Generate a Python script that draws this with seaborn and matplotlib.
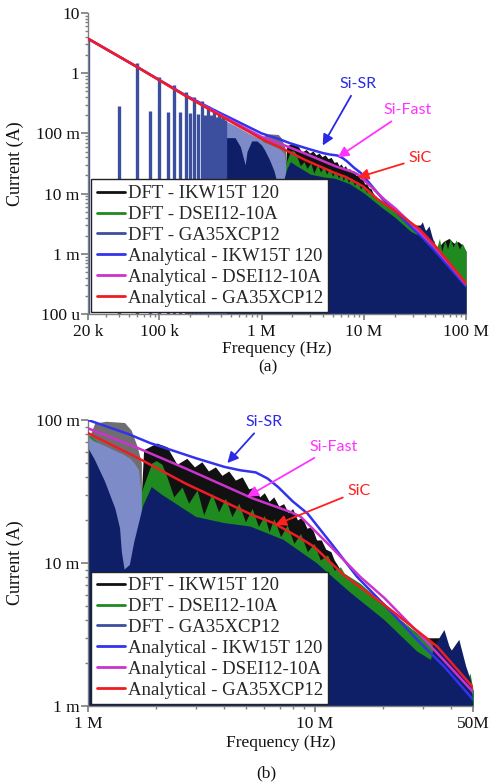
import numpy as np
import matplotlib
matplotlib.use("Agg")
import matplotlib.pyplot as plt
import seaborn as sns
from matplotlib.lines import Line2D
from matplotlib.ticker import FixedLocator, FixedFormatter, LogLocator, NullFormatter

# ---------------- data (frequency in MHz, current in A) ----------------
# DFT - GA35XCP12 : discrete harmonics at low frequency
spike_f = [0.02, 0.04, 0.06, 0.08, 0.10, 0.12, 0.14, 0.16, 0.18, 0.20, 0.22,
           0.24, 0.26, 0.28, 0.30, 0.32, 0.34, 0.36, 0.38, 0.40, 0.42, 0.44]
spike_v = [3.6, 0.285, 1.45, 0.24, 0.87, 0.227, 0.63, 0.225, 0.49, 0.22, 0.40,
           0.21, 0.34, 0.205, 0.29, 0.20, 0.25, 0.19, 0.22, 0.18, 0.20, 0.17]
# DFT - GA35XCP12 : dense region, harmonic peaks (light) and solid floor
navy_lt_f = [0.45, 0.55, 0.65, 0.75, 0.85, 0.95, 1.05, 1.19, 1.32, 1.42, 1.53, 1.60, 1.67, 1.72]
navy_lt_v = [0.16, 0.135, 0.115, 0.10, 0.09, 0.083, 0.072, 0.066, 0.061, 0.058, 0.054, 0.05, 0.045, 0.03]
navy_f = [0.18, 0.22, 0.26, 0.30, 0.36, 0.45, 0.55, 0.62, 0.69, 0.72, 0.80, 0.90, 1.00, 1.07,
          1.19, 1.32, 1.385, 1.41, 1.45, 1.53, 1.60, 1.67, 1.75, 1.91, 2.12, 2.35, 3.0, 4.0,
          5.2, 7.3, 10.2, 14.4, 20.3, 28.4, 32.6, 33.7, 37.4, 40.0, 43.5, 46.6, 49.0, 50.0,
          55.0, 70.0, 85.0, 100.0]
navy_v = [0.0001, 0.001, 0.01, 0.03, 0.06, 0.085, 0.085, 0.06, 0.03, 0.05, 0.075, 0.075, 0.064, 0.053,
          0.037, 0.024, 0.0175, 0.012, 0.009, 0.0097, 0.014, 0.0185, 0.025, 0.034, 0.030, 0.027, 0.021, 0.019,
          0.018, 0.0145, 0.010, 0.0062, 0.0040, 0.0024, 0.0021, 0.0026, 0.0034, 0.0024, 0.0029, 0.0019, 0.0015, 0.0011,
          0.00095, 0.00062, 0.00043, 0.0003]
# DFT - IKW15T 120
black_gr_f = [0.85, 1.0, 1.07, 1.2, 1.45, 1.55, 1.65, 1.72]
black_gr_v = [0.06, 0.072, 0.095, 0.098, 0.096, 0.085, 0.065, 0.05]
black_f = [1.72, 1.76, 2.01, 2.23, 2.47, 2.73, 2.95, 3.18, 3.40, 3.65, 3.90, 4.18, 4.47, 4.79,
           5.12, 5.45, 5.72, 6.0, 6.3, 6.6, 6.95, 7.3, 7.65, 8.0, 8.4, 8.8, 9.25, 9.7, 10.2, 10.7,
           11.2, 11.8, 12.2, 12.6, 13.5, 20.0, 30.0, 37.0, 42.0, 46.0, 50.0, 52.0, 60.0, 68.0,
           76.0, 84.0, 92.0, 100.0]
black_v = [0.03, 0.062, 0.069, 0.065, 0.049, 0.054, 0.047, 0.051, 0.044, 0.047, 0.041, 0.044, 0.038, 0.040,
           0.033, 0.034, 0.029, 0.031, 0.027, 0.029, 0.025, 0.026, 0.0225, 0.024, 0.020, 0.021, 0.0175, 0.018,
           0.0145, 0.0145, 0.0125, 0.012, 0.0105, 0.0097, 0.008, 0.005, 0.003, 0.003, 0.0022, 0.0018, 0.0012,
           0.0012, 0.0016, 0.0018, 0.0015, 0.0016, 0.0014, 0.0011]
# DFT - DSEI12-10A
green_f = [1.0, 1.1, 1.2, 1.35, 1.45, 1.53, 1.6, 1.7, 1.91, 2.0, 2.12, 2.23, 2.39, 2.6, 2.78, 3.03,
           3.24, 3.52, 3.77, 4.04, 4.32, 4.63, 4.95, 5.3, 5.65, 6.0, 6.3, 6.61, 7.08, 7.57, 8.1, 8.67,
           9.29, 9.94, 10.6, 11.4, 12.2, 13.0, 13.5, 15.9, 17.1, 20.3, 24.0, 28.4, 33.0, 34.0, 40.0,
           46.0, 48.5, 50.0, 52.0, 55.0, 58.0, 62.0, 66.0, 70.0, 75.0, 80.0, 86.0, 92.0, 100.0]
green_v = [0.08, 0.07, 0.05, 0.02, 0.004, 0.0097, 0.018, 0.03, 0.05, 0.052, 0.049, 0.040, 0.029, 0.034,
           0.0262, 0.0324, 0.0217, 0.0307, 0.0228, 0.0284, 0.0211, 0.0262, 0.0194, 0.0241, 0.018, 0.0215,
           0.0165, 0.0205, 0.0153, 0.0185, 0.0137, 0.0161, 0.0120, 0.0137, 0.0105, 0.0114, 0.0089, 0.0094,
           0.0085, 0.0072, 0.0065, 0.0052, 0.0040, 0.0032, 0.0028, 0.0013, 0.0018, 0.0014, 0.0017, 0.0013,
           0.0013, 0.0018, 0.0011, 0.0017, 0.0012, 0.0018, 0.0013, 0.0017, 0.0012, 0.0015, 0.0011]
# Analytical models
blue_f = [0.02, 0.06, 0.18, 0.35, 0.55, 1.0, 1.5, 1.88, 3.0, 4.0, 4.7, 5.5, 6.2, 6.9, 8.0, 9.3,
          11.8, 15.4, 20.3, 28.4, 37.4, 50.0, 70.0, 100.0]
blue_v = [3.75, 1.28, 0.43, 0.24, 0.165, 0.100, 0.080, 0.069, 0.054, 0.047, 0.0445, 0.043, 0.039, 0.034,
          0.027, 0.0222, 0.0138, 0.0080, 0.0051, 0.0029, 0.00188, 0.00111, 0.00058, 0.00029]
magenta_f = [0.02, 0.06, 0.18, 0.55, 1.0, 1.67, 2.69, 5.3, 7.8, 8.67, 11.8, 15.9, 20.3, 28.4, 34.8,
             49.0, 70.0, 100.0]
magenta_v = [3.75, 1.28, 0.425, 0.15, 0.0875, 0.0634, 0.0459, 0.0284, 0.0228, 0.0211, 0.013, 0.008,
             0.0057, 0.0033, 0.00234, 0.0013, 0.00065, 0.00031]
red_f = [0.02, 0.06, 0.18, 0.55, 1.0, 1.67, 2.69, 5.3, 6.6, 8.67, 9.94, 13.5, 20.3, 34.8, 50.0, 70.0, 100.0]
red_v = [3.75, 1.28, 0.42, 0.143, 0.081, 0.054, 0.036, 0.0217, 0.019, 0.0149, 0.0130, 0.0082, 0.0051,
         0.0026, 0.00135, 0.00068, 0.00032]

legend_labels = ["DFT - IKW15T 120", "DFT - DSEI12-10A", "DFT - GA35XCP12",
                 "Analytical - IKW15T 120", "Analytical - DSEI12-10A", "Analytical - GA35XCP12"]

xticks_a = [2e4, 1e5, 1e6, 1e7, 1e8]
xlabels_a = ["20 k", "100 k", "1 M", "10 M", "100 M"]
yticks_a = [1e-4, 1e-3, 1e-2, 1e-1, 1, 10]
ylabels_a = ["100 u", "1 m", "10 m", "100 m", "1", "10"]
xticks_b = [1e6, 1e7, 5e7]
xlabels_b = ["1 M", "10 M", "50M"]
yticks_b = [1e-3, 1e-2, 1e-1]
ylabels_b = ["1 m", "10 m", "100 m"]

# ---------------- style ----------------
sns.set_theme(style="white")
plt.rcParams['font.family'] = ['Liberation Serif', 'DejaVu Serif']

C_NAVY = '#0e1f68'
C_SPIKE = '#3c4f9f'
C_LIGHT = '#7d8cc8'
C_BLACK = '#111111'
C_GREY = '#6e6e6e'
C_GREEN = '#1f8a1f'
C_BLUE = '#3333ee'
C_MAG = '#cc33cc'
C_RED = '#ee1c24'
MHZ = 1e6
FLOOR = 1e-6
FS = 12.5
LFS = 13.5

W, H = 492, 782
fig = plt.figure(figsize=(W / 100, H / 100), dpi=100)
axA = fig.add_axes([88 / W, 1 - 314 / H, 378 / W, 301 / H])
axB = fig.add_axes([88 / W, 1 - 706 / H, 385 / W, 286 / H])


def A(x):
    return np.asarray(x, dtype=float)


def draw(ax, with_spikes):
    ax.set_xscale('log')
    ax.set_yscale('log')
    ax.fill_between(A(black_gr_f) * MHZ, FLOOR, A(black_gr_v), color=C_GREY, lw=0, zorder=1.0)
    ax.fill_between(A(black_f) * MHZ, FLOOR, A(black_v), color=C_BLACK, lw=0, zorder=1.1)
    ax.fill_between(A(green_f) * MHZ, FLOOR, A(green_v), color=C_GREEN, lw=0, zorder=1.2)
    ax.fill_between(A(navy_lt_f) * MHZ, FLOOR, A(navy_lt_v), color=C_LIGHT, lw=0, zorder=1.3)
    ax.fill_between(A(navy_f) * MHZ, FLOOR, A(navy_v), color=C_NAVY, lw=0, zorder=1.4)
    if with_spikes:
        ax.vlines(A(spike_f) * MHZ, FLOOR, A(spike_v), color=C_SPIKE, lw=2.4, zorder=1.5)
    for f, v, c in [(blue_f, blue_v, C_BLUE), (magenta_f, magenta_v, C_MAG), (red_f, red_v, C_RED)]:
        sns.lineplot(x=A(f) * MHZ, y=A(v), ax=ax, color=c, lw=1.8, estimator=None, zorder=3)

    for s in ['top', 'right']:
        ax.spines[s].set_visible(False)
    for s in ['left', 'bottom']:
        ax.spines[s].set_color('#808080')
        ax.spines[s].set_linewidth(1.0)
    ax.tick_params(which='both', bottom=True, left=True, direction='out', colors='#808080',
                   labelcolor='#111111', labelsize=FS)
    ax.tick_params(axis='x', which='major', length=4, pad=3.5)
    ax.tick_params(axis='y', which='major', length=5, pad=1)
    ax.tick_params(which='minor', length=2.5)
    ax.yaxis.set_minor_locator(LogLocator(base=10, subs=np.arange(2, 10)))
    ax.xaxis.set_minor_locator(LogLocator(base=10, subs=np.arange(2, 10)))
    ax.xaxis.set_minor_formatter(NullFormatter())
    ax.yaxis.set_minor_formatter(NullFormatter())

    handles = [Line2D([], [], color=c, lw=2) for c in
               [C_BLACK, C_GREEN, C_SPIKE, C_BLUE, C_MAG, C_RED]]
    leg = ax.legend(handles, legend_labels, loc='lower left', bbox_to_anchor=(0.008, 0.006),
                    frameon=True, fancybox=False, edgecolor='#222222', framealpha=1,
                    fontsize=LFS, handlelength=1.5, handletextpad=0.15, labelspacing=0.2,
                    borderpad=0.3, borderaxespad=0)
    leg.get_frame().set_linewidth(1.0)
    leg.set_zorder(5)


draw(axA, True)
draw(axB, False)

axA.set_xlim(2e4, 1e8)
axA.set_ylim(1e-4, 10)
axB.set_xlim(1e6, 5e7)
axB.set_ylim(1e-3, 1e-1)

for ax, xt, xl, yt, yl in [(axA, xticks_a, xlabels_a, yticks_a, ylabels_a),
                           (axB, xticks_b, xlabels_b, yticks_b, ylabels_b)]:
    ax.xaxis.set_major_locator(FixedLocator(xt))
    ax.xaxis.set_major_formatter(FixedFormatter(xl))
    ax.yaxis.set_major_locator(FixedLocator(yt))
    ax.yaxis.set_major_formatter(FixedFormatter(yl))
    ax.set_xlabel("Frequency (Hz)", fontsize=FS, color='#111111')
    ax.set_ylabel("Current (A)", fontsize=FS + 0.5, color='#111111')
    ax.xaxis.label.set_va('center')
    ax.yaxis.label.set_va('center')

axA.xaxis.set_label_coords(0.5, -(349 - 314) / 301)
axA.yaxis.set_label_coords(-(88 - 15) / 378, 0.5)
axB.xaxis.set_label_coords(0.5, -(743 - 706) / 286)
axB.yaxis.set_label_coords(-(88 - 15) / 385, 0.5)

fig.text(268 / W, 1 - 367 / H, "(a)", ha='center', va='center', fontsize=FS, color='#111111')
fig.text(266 / W, 1 - 773 / H, "(b)", ha='center', va='center', fontsize=FS, color='#111111')

ann_font = ['Lato', 'DejaVu Sans']


def note(ax, text, tip, pos, c):
    ax.annotate(text, xy=tip, xytext=pos, ha='center', va='center', color=c,
                fontsize=11.5, family=ann_font, zorder=6,
                arrowprops=dict(arrowstyle='-|>', color=c, lw=1.3, mutation_scale=16,
                                shrinkA=1, shrinkB=0))


note(axA, "Si-SR", (3.96e6, 0.063), (8.7e6, 0.655), '#2a2ae6')
note(axA, "Si-Fast", (5.56e6, 0.040), (27e6, 0.242), '#ff33ff')
note(axA, "SiC", (8.7e6, 0.0185), (35.5e6, 0.0383), '#ff2020')
note(axB, "Si-SR", (4.12e6, 0.050), (6.0e6, 0.0968), '#2a2ae6')
note(axB, "Si-Fast", (5.04e6, 0.0291), (12.1e6, 0.0648), '#ff33ff')
note(axB, "SiC", (6.71e6, 0.0185), (15.7e6, 0.0319), '#ff2020')

fig.savefig("out.png", dpi=100)
